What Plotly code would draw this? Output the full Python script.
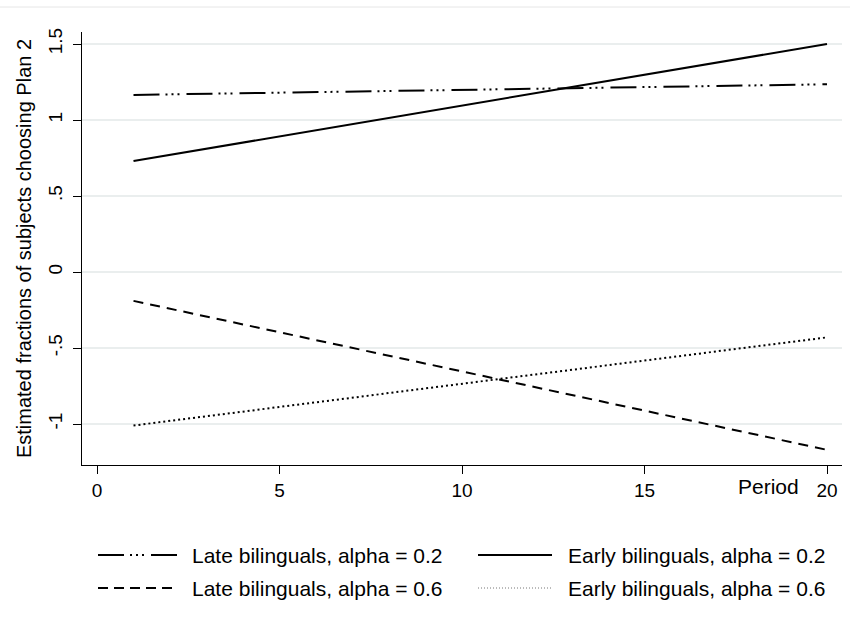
import plotly.graph_objects as go

# ---- data ----
periods = [1, 20]
late_02 = [1.165, 1.235]
early_02 = [0.73, 1.50]
late_06 = [-0.19, -1.17]
early_06 = [-1.01, -0.43]

series_names = [
    "Late bilinguals, alpha = 0.2",
    "Early bilinguals, alpha = 0.2",
    "Late bilinguals, alpha = 0.6",
    "Early bilinguals, alpha = 0.6",
]
x_ticks = [0, 5, 10, 15, 20]
y_ticks = [-1, -0.5, 0, 0.5, 1, 1.5]
y_ticktext = ["-1", "-.5", "0", ".5", "1", "1.5"]

# ---- layout geometry (pixels) ----
W, H = 850, 630
ML, MR, MT, MB = 82, 8, 32, 165
PW = W - ML - MR
PH = H - MT - MB


def px2x(px):
    return (px - ML) / PW


def px2y(py):
    return (H - MB - py) / PH


FONT = "Liberation Sans, Arial, sans-serif"

styles = {
    series_names[0]: dict(dash="26px,6px,2px,4px,2px,4px,2px,7px", width=2, color="black"),
    series_names[1]: dict(dash="solid", width=2, color="black"),
    series_names[2]: dict(dash="10px,7px", width=2, color="black"),
    series_names[3]: dict(dash="2px,3px", width=2, color="black"),
}

fig = go.Figure()
for name, ys in zip(series_names, [late_02, early_02, late_06, early_06]):
    fig.add_trace(go.Scatter(x=periods, y=ys, mode="lines", name=name,
                             line=styles[name], showlegend=False))

# ---- manual legend (long line samples like the original) ----
legend_styles = {
    series_names[0]: dict(dash="26px,6px,2px,4px,2px,4px,2px,7px", width=2, color="black"),
    series_names[1]: dict(dash="solid", width=2, color="black"),
    series_names[2]: dict(dash="10px,6px", width=2, color="black"),
    series_names[3]: dict(dash="1px,2px", width=1, color="#777777"),
}
legend_pos = {
    series_names[0]: (98, 178, 190, 555),
    series_names[1]: (478, 552, 566, 555),
    series_names[2]: (98, 178, 190, 588),
    series_names[3]: (478, 552, 566, 588),
}
shapes = []
annotations = []
for name in series_names:
    x0, x1, xt, yc = legend_pos[name]
    shapes.append(dict(type="line", xref="paper", yref="paper",
                       x0=px2x(x0), x1=px2x(x1), y0=px2y(yc), y1=px2y(yc),
                       line=legend_styles[name]))
    annotations.append(dict(text=name, xref="paper", yref="paper",
                            x=px2x(xt), y=px2y(yc), xanchor="left", yanchor="middle",
                            showarrow=False, font=dict(family=FONT, size=21, color="black")))

# top frame line of the graph region
shapes.append(dict(type="line", xref="paper", yref="paper",
                   x0=px2x(0), x1=px2x(W), y0=px2y(7), y1=px2y(7),
                   line=dict(color="#e6e6e6", width=1)))

# x-axis title placed at the right, like Stata's "Period"
annotations.append(dict(text="Period", xref="paper", yref="paper",
                        x=px2x(801), y=px2y(486), xanchor="right", yanchor="middle",
                        showarrow=False, font=dict(family=FONT, size=21, color="black")))

fig.update_layout(
    width=W, height=H,
    margin=dict(l=ML, r=MR, t=MT, b=MB),
    paper_bgcolor="white", plot_bgcolor="white",
    font=dict(family=FONT, size=19, color="black"),
    shapes=shapes, annotations=annotations,
    showlegend=False,
)
fig.update_xaxes(
    range=[-15 / 36.5, 20 + 15 / 36.5],
    tickvals=x_ticks, ticks="outside", ticklen=8, tickcolor="black",
    showline=True, linecolor="black", linewidth=1,
    showgrid=False, zeroline=False,
    tickfont=dict(size=19),
)
fig.update_yaxes(
    range=[-1 - 41 / 152, 1.5 + 12 / 152],
    tickvals=y_ticks, ticktext=y_ticktext, tickangle=-90,
    ticks="outside", ticklen=8, tickcolor="black",
    showline=True, linecolor="black", linewidth=1,
    showgrid=True, gridcolor="#eaeeee", gridwidth=2, zeroline=False,
    tickfont=dict(size=19), ticklabelstandoff=3,
    title=dict(text="Estimated fractions of subjects choosing Plan 2",
               font=dict(size=20), standoff=8),
)

fig.write_html("out.html")
